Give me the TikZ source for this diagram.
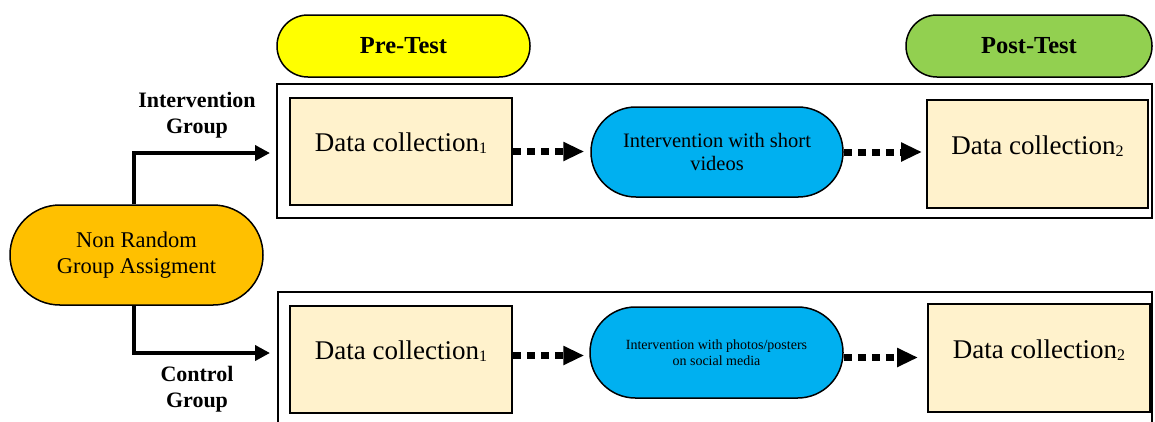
\documentclass[tikz,border=0pt]{standalone}
\usepackage{fontspec}
\setmainfont{Liberation Serif}
\usetikzlibrary{arrows.meta}
\definecolor{preY}{HTML}{FFFF00}
\definecolor{postG}{HTML}{92D050}
\definecolor{nrO}{HTML}{FFC000}
\definecolor{ivB}{HTML}{00B0F0}
\definecolor{dcF}{HTML}{FFF2CC}
\tikzset{
 stad/.style={draw=black, line width=1.5pt, inner sep=0pt, align=center},
 dcbox/.style={draw=black, line width=2pt, fill=dcF, minimum width=222pt, minimum height=107pt, inner sep=0pt},
 outerbox/.style={draw=black, line width=2pt, inner sep=0pt},
 elbow/.style={line width=4.5pt, -{Triangle[length=15pt,width=15pt]}},
 dotarrow/.style={line width=7pt, dash pattern=on 8pt off 6pt, -{Triangle[length=21pt,width=18pt]}},
 grp/.style={font=\fontsize{22}{26}\selectfont\bfseries, align=center},
}
\newcommand{\dctext}[1]{\raisebox{18pt}{\fontsize{27}{30}\selectfont Data collection\raisebox{-2pt}{\fontsize{16}{16}\selectfont #1}}}
\begin{document}
\begin{tikzpicture}[x=1pt,y=-1pt]
\useasboundingbox (0,0) rectangle (1155,421);
\clip (0,0) rectangle (1155,421);
\node[outerbox, minimum width=875pt, minimum height=134.5pt] (ib) at (714.5,150.75) {};
\node[outerbox, minimum width=874pt, minimum height=134pt] (cb) at (715,359) {};
\node[stad, fill=preY, minimum width=253pt, minimum height=62pt, rounded corners=30.9pt, font=\fontsize{24.5}{28}\selectfont\bfseries] (pre) at (403.5,46) {Pre-Test};
\node[stad, fill=postG, minimum width=246pt, minimum height=62pt, rounded corners=30.9pt, font=\fontsize{24.5}{28}\selectfont\bfseries] (post) at (1029,46) {Post-Test};
\node[stad, fill=nrO, minimum width=253pt, minimum height=100pt, rounded corners=49.9pt, font=\fontsize{22.5}{26}\selectfont] (nr) at (136.5,255) {Non Random\\Group Assigment};
\node[dcbox] (dc1a) at (401,151.5) {\dctext{1}};
\node[stad, fill=ivB, minimum width=252pt, minimum height=90pt, rounded corners=44.9pt, font=\fontsize{20.5}{23}\selectfont] (iv1) at (717,152) {Intervention with short\\videos};
\node[dcbox, minimum width=221pt, minimum height=108pt] (dc2a) at (1037.5,154) {\dctext{2}};
\node[dcbox] (dc1b) at (401,359.5) {\dctext{1}};
\node[stad, fill=ivB, minimum width=253pt, minimum height=91pt, rounded corners=45.4pt, font=\fontsize{14}{15.5}\selectfont] (iv2) at (716.5,352.5) {Intervention with photos/posters\\on social media};
\node[dcbox, minimum height=108pt] (dc2b) at (1039,358) {\dctext{2}};
\node[grp] (lig) at (197,115) {Intervention\\Group};
\node[grp] (lcg) at (197,389) {Control\\Group};
\coordinate (t1) at (270,153);
\coordinate (t2) at (270,353);
\draw[elbow] ([xshift=-2.5pt]nr.north) |- (t1);
\draw[elbow] ([xshift=-2.5pt]nr.south) |- (t2);
\draw[dotarrow, shorten >=6pt] (dc1a.east) -- (dc1a.east -| iv1.west);
\draw[dotarrow, shorten >=4pt] (iv1.east) -- (iv1.east -| dc2a.west);
\draw[dotarrow, shorten >=5pt] ([yshift=4pt]dc1b.east) -- ([yshift=4pt]dc1b.east -| iv2.west);
\draw[dotarrow, shorten >=9pt] ([yshift=-5pt]iv2.east) -- ([yshift=-5pt]iv2.east -| dc2b.west);
\end{tikzpicture}
\end{document}
